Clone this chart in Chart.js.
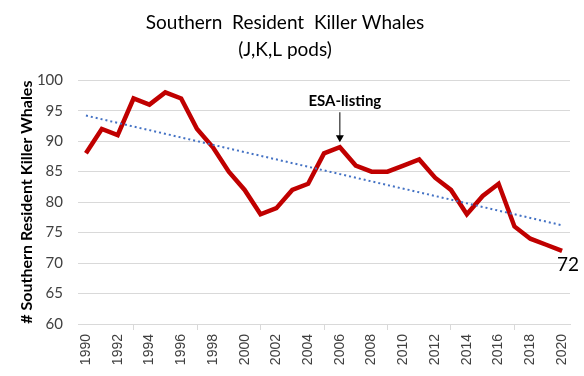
<!DOCTYPE html>
<html>
<head>
<meta charset="utf-8">
<script src="https://cdn.jsdelivr.net/npm/chart.js@4"></script>
<style>
  html, body { margin: 0; padding: 0; background: #fff; }
  #wrap { width: 584px; height: 376px; }
</style>
</head>
<body>
<div id="wrap"><canvas id="whaleChart"></canvas></div>
<script>
// Datos del censo (J, K, L pods)
const years = ['1990','1991','1992','1993','1994','1995','1996','1997','1998','1999',
               '2000','2001','2002','2003','2004','2005','2006','2007','2008','2009',
               '2010','2011','2012','2013','2014','2015','2016','2017','2018','2019','2020'];
const whaleCounts = [88, 92, 91, 97, 96, 98, 97, 92, 89, 85,
                     82, 78, 79, 82, 83, 88, 89, 86, 85, 85,
                     86, 87, 84, 82, 78, 81, 83, 76, 74, 73, 72];
// Línea de tendencia: solo extremos
const trendStart = 94.2;
const trendEnd = 76.2;
const yTicks = [60, 65, 70, 75, 80, 85, 90, 95, 100];
const esaYear = '2006';
const esaLabel = 'ESA-listing';

const trendData = years.map((_, i) => i === 0 ? trendStart : (i === years.length - 1 ? trendEnd : null));

// Plugin para la anotación ESA y la etiqueta del último valor
const annotations = {
    id: 'annotations',
    afterDatasetsDraw(chart) {
        const { ctx, scales: { x, y } } = chart;
        const i = years.indexOf(esaYear);
        const px = x.getPixelForValue(i);
        const py = y.getPixelForValue(whaleCounts[i]);
        ctx.save();
        // flecha
        ctx.strokeStyle = '#000';
        ctx.fillStyle = '#000';
        ctx.lineWidth = 1;
        ctx.beginPath();
        ctx.moveTo(px, py - 35);
        ctx.lineTo(px, py - 10);
        ctx.stroke();
        ctx.beginPath();
        ctx.moveTo(px - 4, py - 12);
        ctx.lineTo(px + 4, py - 12);
        ctx.lineTo(px, py - 5);
        ctx.closePath();
        ctx.fill();
        // texto
        ctx.font = 'bold 15px Lato';
        ctx.textAlign = 'center';
        ctx.textBaseline = 'middle';
        ctx.fillText(esaLabel, px + 5, py - 46);
        // último valor
        const last = whaleCounts.length - 1;
        const lx = x.getPixelForValue(last);
        const ly = y.getPixelForValue(whaleCounts[last]);
        ctx.font = '19px Lato';
        ctx.fillText(String(whaleCounts[last]), lx + 6, ly + 14);
        ctx.restore();
    }
};

new Chart(document.getElementById('whaleChart'), {
    type: 'line',
    data: {
        labels: years,
        datasets: [
            {
                label: 'Tendencia',
                data: trendData,
                spanGaps: true,
                borderColor: '#4472C4',
                borderWidth: 2,
                borderDash: [2, 3],
                pointRadius: 0,
                order: 0
            },
            {
                label: 'Southern Resident Killer Whales',
                data: whaleCounts,
                borderColor: '#C00000',
                borderWidth: 4.5,
                pointRadius: 0,
                tension: 0,
                order: 1
            }
        ]
    },
    options: {
        responsive: true,
        maintainAspectRatio: false,
        animation: false,
        layout: { padding: { left: 0, right: 14, top: 0, bottom: 0 } },
        plugins: {
            legend: { display: false },
            tooltip: { enabled: false },
            title: {
                display: true,
                text: ['Southern  Resident  Killer Whales', '(J,K,L pods)'],
                color: '#000',
                font: { family: 'Lato', size: 19, weight: 'normal', lineHeight: 1.4 },
                padding: { top: 10, bottom: 17 }
            }
        },
        scales: {
            x: {
                type: 'category',
                offset: true,
                afterFit(scale) { scale.height = 52; },
                grid: {
                    offset: true,
                    drawOnChartArea: false,
                    drawTicks: true,
                    tickLength: 6,
                    color: (c) => (c.index % 2 === 0 && c.index < years.length) ? '#d9d9d9' : 'rgba(0,0,0,0)'
                },
                border: { display: true, color: '#d9d9d9' },
                ticks: {
                    autoSkip: false,
                    maxRotation: 90,
                    minRotation: 90,
                    padding: 4,
                    color: '#404040',
                    font: { family: 'Liberation Sans', size: 14 },
                    callback: (v, i) => i % 2 === 0 ? years[i] : null
                }
            },
            y: {
                min: 60,
                max: 100,
                afterFit(scale) { scale.width = 78; },
                afterBuildTicks(scale) { scale.ticks = yTicks.map(v => ({ value: v })); },
                grid: { color: '#d9d9d9', drawTicks: false },
                border: { display: false },
                ticks: {
                    padding: 15,
                    color: '#404040',
                    font: { family: 'Lato', size: 15 }
                },
                title: {
                    display: true,
                    text: '# Southern Resident Killer Whales',
                    color: '#000',
                    font: { family: 'Lato', size: 16, weight: 'bold' },
                    padding: { top: 17, bottom: 0 }
                }
            }
        }
    },
    plugins: [annotations]
});
</script>
</body>
</html>
